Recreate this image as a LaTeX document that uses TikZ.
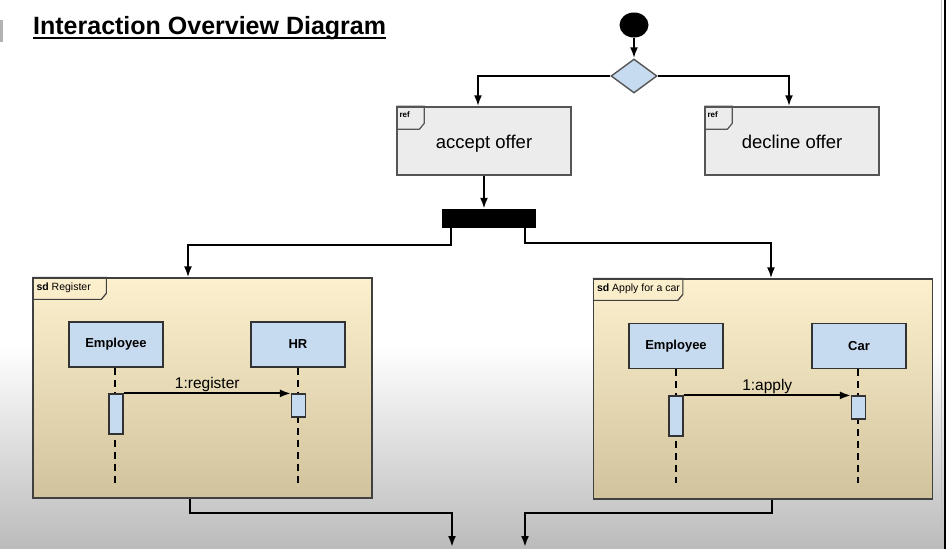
\documentclass[tikz,border=0pt]{standalone}
\usepackage{fontspec}
\setmainfont{Liberation Sans}
\usetikzlibrary{shapes.geometric,arrows.meta}
\definecolor{refgray}{HTML}{ECECEC}
\definecolor{edgegray}{HTML}{555555}
\definecolor{lifeblue}{HTML}{C6DAF0}
\definecolor{frametop}{HTML}{FDF0CE}
\definecolor{framebot}{HTML}{D0C39C}
\definecolor{bggray}{HTML}{BBBBBB}
\tikzset{
  flow/.style={line width=2pt,-{Latex[length=11pt,width=8pt]}},
  refbox/.style={draw=edgegray,line width=1.4pt,fill=refgray,minimum width=174pt,minimum height=68pt,text height=19pt,text depth=4pt,font=\fontsize{18.5}{20}\selectfont},
  framebox/.style={draw=black!75,line width=1.3pt,top color=frametop,bottom color=framebot,minimum width=339pt,minimum height=220pt},
  lifebox/.style={draw=black!80,line width=1.4pt,fill=lifeblue,minimum width=94pt,minimum height=45pt,font=\bfseries\fontsize{13}{15}\selectfont},
  actbar/.style={draw=black!80,line width=1.2pt,fill=lifeblue,minimum width=14pt,inner sep=0pt},
  lifeline/.style={line width=2.2pt,dash pattern=on 7pt off 5pt},
  msg/.style={line width=2pt,-{Latex[length=11pt,width=8pt]}},
  tag/.style={font=\bfseries\fontsize{8}{9}\selectfont,anchor=west,inner sep=0pt},
  sdtag/.style={font=\fontsize{10.5}{12}\selectfont,anchor=west,inner sep=0pt}
}
\begin{document}
\begin{tikzpicture}[x=1pt,y=-1pt]
    \useasboundingbox (0,0) rectangle (946,549);
    %% background
    \fill[white] (0,0) rectangle (946,345);
    \shade[top color=white,bottom color=bggray] (0,345) rectangle (946,549);
    \fill[gray!60] (0,20) rectangle (2.5,42);
    \draw[gray!50,line width=1pt] (941,0) -- (941,549);
    \draw[line width=2pt] (945,0) -- (945,549);
    %% title
    \node[anchor=base west,inner sep=0pt,font=\bfseries\fontsize{25}{28}\selectfont] (title) at (33,34) {Interaction Overview Diagram};
    \draw[line width=1.8pt] ([yshift=-4pt]title.base west) -- ([yshift=-4pt]title.base east);
    %% start and decision
    \node[ellipse,fill=black,minimum width=29pt,minimum height=25pt,inner sep=0pt] (start) at (634,25) {};
    \node[diamond,draw=edgegray,line width=1.4pt,fill=lifeblue,minimum width=46pt,minimum height=34pt,inner sep=0pt] (dec) at (634,76) {};
    %% ref boxes
    \node[refbox] (acc) at (484,141) {accept offer};
    \node[refbox] (dcl) at (792,141) {decline offer};
    \foreach \b in {acc,dcl} {
        \draw[edgegray,line width=1.2pt] (\b.north west) -- ++(28,0) -- ++(0,17) -- ++(-5,6) -- ++(-23,0);
        \node[tag] at ([xshift=3pt,yshift=-8pt]\b.north west) {ref};
    }
    %% fork
    \node[fill=black,minimum width=94pt,minimum height=19pt,inner sep=0pt] (fork) at (489,218.5) {};
    %% sequence frames
    \node[framebox] (reg) at (202.5,388) {};
    \node[framebox] (car) at (763,389) {};
    \draw[black!75,line width=1.2pt] (reg.north west) -- ++(74,0) -- ++(0,16) -- ++(-5,6) -- ++(-69,0);
    \node[sdtag] at ([xshift=4pt,yshift=-10pt]reg.north west) {\textbf{sd} Register};
    \draw[black!75,line width=1.2pt] (car.north west) -- ++(90,0) -- ++(0,16) -- ++(-5,6) -- ++(-85,0);
    \node[sdtag] at ([xshift=4pt,yshift=-10pt]car.north west) {\textbf{sd} Apply for a car};
    %% lifelines Register
    \node[lifebox] (emp1) at (116,344.5) {Employee};
    \node[lifebox] (hr) at (298,344.5) {HR};
    \coordinate (emp1end) at (115,483);
    \coordinate (hrend) at (298,483);
    \draw[lifeline] (emp1.south -| emp1end) -- (emp1end);
    \draw[lifeline] (hr.south) -- (hrend);
    \node[actbar,minimum height=40pt] (emp1act) at (116,414) {};
    \node[actbar,minimum height=23pt] (hract) at (298.5,405.5) {};
    \draw[msg] (emp1act.north east) -- node[above,inner sep=1pt,font=\fontsize{15.5}{17}\selectfont] {1:register} (hract.north west);
    %% lifelines Apply for a car
    \node[lifebox] (emp2) at (676,346) {Employee};
    \node[lifebox] (cr) at (859,346) {Car};
    \coordinate (emp2end) at (676,483);
    \coordinate (crend) at (858,483);
    \draw[lifeline] (emp2.south) -- (emp2end);
    \draw[lifeline] (cr.south -| crend) -- (crend);
    \node[actbar,minimum height=40pt] (emp2act) at (676,416) {};
    \node[actbar,minimum height=23pt] (cract) at (858.5,407.5) {};
    \draw[msg] (emp2act.north east) -- node[above,inner sep=1pt,font=\fontsize{15.5}{17}\selectfont] {1:apply} (cract.north west);
    %% control flow
    \coordinate (out1) at (452,547);
    \coordinate (out2) at (525,547);
    \draw[flow] (start) -- (dec);
    \draw[flow] (dec.west) -| ([xshift=-6pt]acc.north);
    \draw[flow] (dec.east) -| ([xshift=-3pt]dcl.north);
    \draw[flow] (acc.south) -- (acc.south |- fork.north);
    \draw[flow] ([xshift=-38pt]fork.south) -- ++(0,17) -| ([xshift=-14.5pt]reg.north);
    \draw[flow] ([xshift=36pt]fork.south) -- ++(0,15) -| ([xshift=8pt]car.north);
    \draw[flow] ([xshift=-12.5pt]reg.south) -- ++(0,14) -| (out1);
    \draw[flow] ([xshift=9pt]car.south) -- ++(0,13) -| (out2);
\end{tikzpicture}
\end{document}
